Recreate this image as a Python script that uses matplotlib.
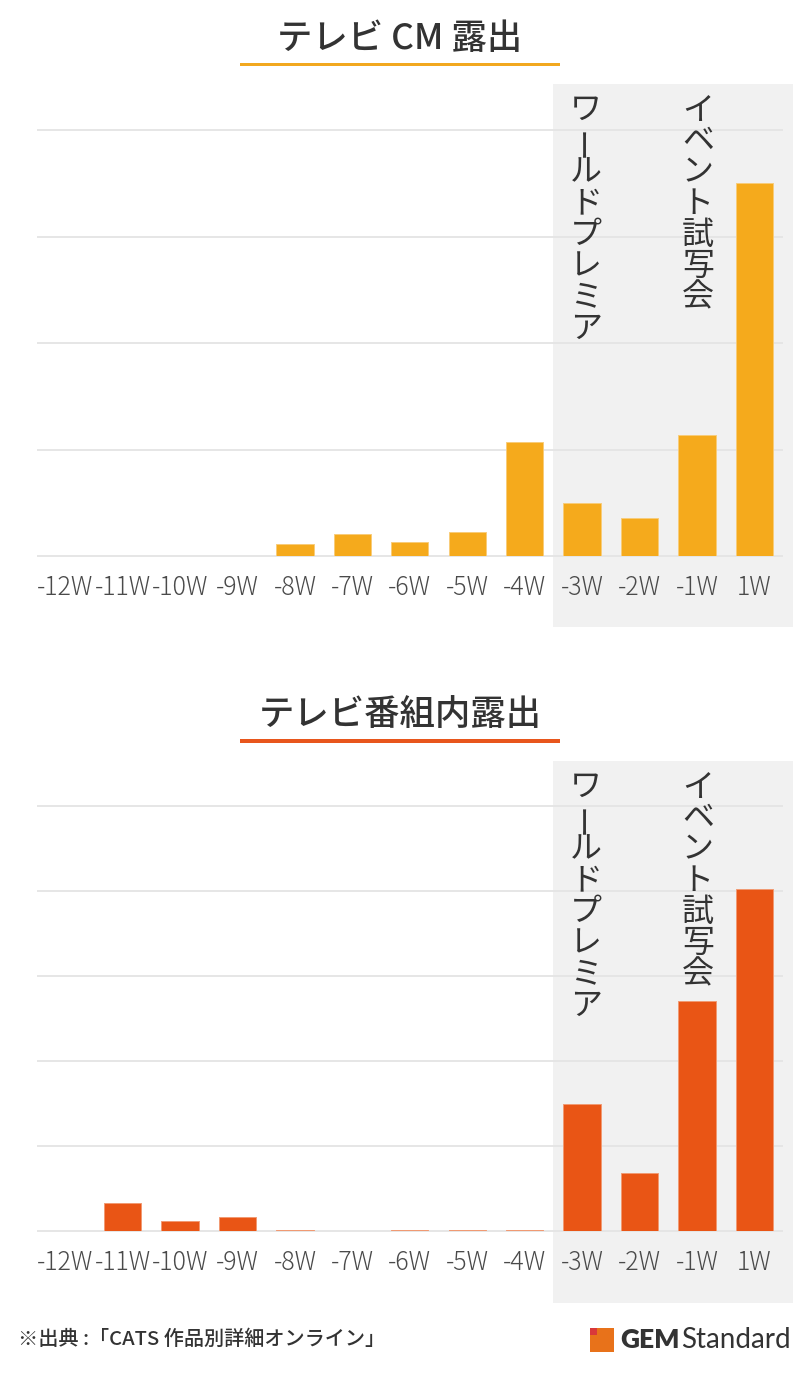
import matplotlib
matplotlib.use("Agg")
import matplotlib.pyplot as plt
from matplotlib.patches import Rectangle

plt.rcParams['font.family'] = ['Noto Sans CJK JP', 'DejaVu Sans']

# ---------------- data ----------------
weeks = ['-12W', '-11W', '-10W', '-9W', '-8W', '-7W', '-6W', '-5W', '-4W',
         '-3W', '-2W', '-1W', '1W']
cm_values = [0, 0, 0, 0, 0.11, 0.21, 0.13, 0.225, 1.07, 0.495, 0.36, 1.135, 3.505]
program_values = [0, 0.33, 0.12, 0.16, 0.015, 0, 0.015, 0.015, 0.015,
                  1.49, 0.68, 2.71, 4.02]
cm_grid = [0, 1, 2, 3, 4]
program_grid = [0, 1, 2, 3, 4, 5]
titles = ['テレビ CM 露出', 'テレビ番組内露出']
events = ['ワールドプレミア', 'イベント試写会']
event_weeks = ['-3W', '-1W']
shade_from = '-3W'
source_text = '※出典 :「CATS 作品別詳細オンライン」'

# ---------------- style ----------------
W, H = 800, 1378
fig = plt.figure(figsize=(W / 100, H / 100), dpi=100)
fig.patch.set_facecolor('white')

def fx(px):
    return px / W

def fy(py):
    return 1 - py / H

BAR_TOP = '#F5AA1C'
BAR_BOT = '#E95515'
SHADE = '#F1F1F1'
GRID = '#E4E4E4'
TEXT = '#333333'
TICK = '#4A4A4A'

left_px, right_px = 36.5, 793
step_px = (783 - 36.5) / 13.0
xright = 12.5 + (right_px - 783) / step_px


def panel(top_px, base_px, shade_bottom_px, grid_px, values, grid, color, edge):
    ax = fig.add_axes([fx(left_px), fy(base_px), fx(right_px - left_px),
                       (base_px - top_px) / H])
    n = len(weeks)
    x = list(range(n))
    ytop = (base_px - top_px) / grid_px
    ax.set_xlim(-0.5, xright)
    ax.set_ylim(0, ytop)
    ax.set_facecolor('none')
    for s in ax.spines.values():
        s.set_visible(False)
    # shaded period
    ax.axvspan(weeks.index(shade_from) - 0.5, xright,
               ymin=-(shade_bottom_px - base_px) / (base_px - top_px), ymax=1,
               color=SHADE, lw=0, clip_on=False, zorder=0)
    ax.hlines(grid, -0.5, 12.5, color=GRID, lw=1.3, clip_on=False, zorder=1)
    ax.bar(x, values, width=0.65, color=color, edgecolor=edge, linewidth=0.7,
           zorder=2)
    ax.set_yticks([])
    ax.set_xticks(x)
    ax.set_xticklabels(weeks, fontsize=18, color=TICK, weight='light')
    ax.tick_params(axis='x', length=0, pad=13)
    # vertical event labels
    pitch = 31.25
    for label, wk in zip(events, event_weeks):
        xi = weeks.index(wk)
        for i, ch in enumerate(label):
            rot = 90 if ch == 'ー' else 0
            ax.annotate(ch, xy=(xi, 1), xycoords=('data', 'axes fraction'),
                        xytext=(4 if xi == 9 else 1, -(26 + i * pitch)),
                        textcoords='offset pixels',
                        ha='center', va='center', rotation=rot,
                        fontsize=23, color=TEXT, weight='normal',
                        annotation_clip=False)
    return ax


panel(84, 556, 627, 106.4, cm_values, cm_grid, BAR_TOP, '#F8CC7A')
panel(761, 1231, 1303, 85.0, program_values, program_grid, BAR_BOT, '#F19A73')

# titles and underlines
fig.text(0.5, fy(39), titles[0], ha='center', va='center', fontsize=25.5,
         weight='medium', color=TEXT)
fig.add_artist(Rectangle((fx(240), fy(65.7)), fx(320), 3.2 / H,
                         transform=fig.transFigure, color='#F2A81F', lw=0))
fig.text(0.5, fy(715), titles[1], ha='center', va='center', fontsize=25.5,
         weight='medium', color=TEXT)
fig.add_artist(Rectangle((fx(240), fy(742.7)), fx(320), 3.7 / H,
                         transform=fig.transFigure, color='#E8561C', lw=0))

# footer
fig.text(fx(18), fy(1339), source_text, ha='left', va='center', fontsize=14.5,
         weight='medium', color=TEXT)
fig.add_artist(Rectangle((fx(590), fy(1352)), fx(24), 24 / H,
                         transform=fig.transFigure, color='#E8721A', lw=0))
fig.add_artist(Rectangle((fx(590), fy(1335)), fx(7), 7 / H,
                         transform=fig.transFigure, color='#D9383A', lw=0))
fig.text(fx(620), fy(1340), 'GEM', ha='left', va='center', fontsize=19,
         weight='heavy', color=TEXT, family=['Lato', 'DejaVu Sans'])
fig.text(fx(681), fy(1340), 'Standard', ha='left', va='center', fontsize=20,
         weight='normal', color=TEXT, family=['Lato', 'DejaVu Sans'])

fig.savefig('out.png', dpi=100)
